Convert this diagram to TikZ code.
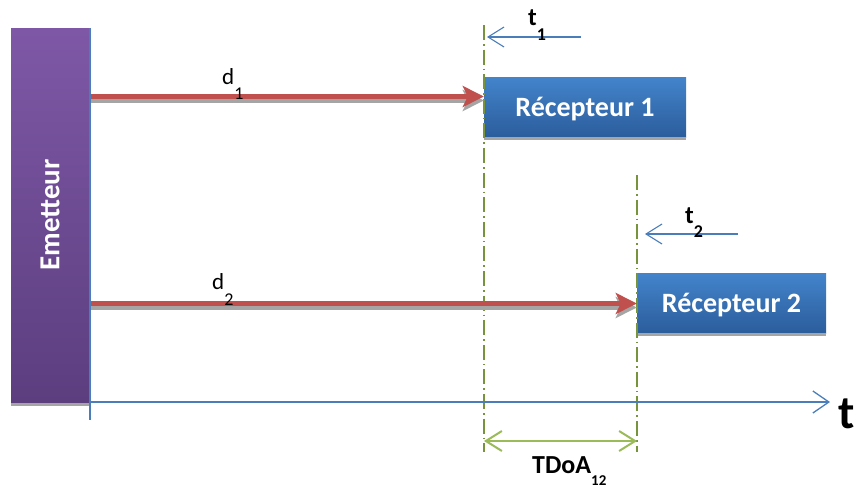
\documentclass[tikz,border=0pt]{standalone}
\usepackage{fontspec}
\setmainfont{Carlito}
\usetikzlibrary{arrows.meta}
\definecolor{emtop}{HTML}{7E58A6}
\definecolor{embot}{HTML}{5C3E7F}
\definecolor{rectop}{HTML}{4384CB}
\definecolor{recbot}{HTML}{2B5D9C}
\definecolor{redarr}{HTML}{C0504D}
\definecolor{axblue}{HTML}{4A7EBB}
\definecolor{olivegreen}{HTML}{77933C}
\definecolor{lgreen}{HTML}{9BBB59}
\definecolor{shadowgray}{HTML}{A5A5A5}
\begin{document}
\begin{tikzpicture}[x=1pt,y=-1pt,
  recbox/.style={minimum width=202pt, minimum height=60pt, inner sep=0pt, text depth=0pt,
    top color=rectop, bottom color=recbot, text=white,
    font=\bfseries\fontsize{28}{28}\selectfont},
  emitbox/.style={rotate=90, minimum width=374pt, minimum height=78pt, inner sep=0pt,
    top color=emtop, bottom color=embot, text=white,
    font=\bfseries\fontsize{29}{29}\selectfont},
  boxshadow/.style={fill=shadowgray},
  redarrow/.style={draw=redarr, line width=5pt, -{Stealth[length=21pt,width=21pt,inset=5pt]}},
  redshadow/.style={draw=shadowgray, line width=4pt, -{Stealth[length=21pt,width=21pt,inset=5pt]}},
  axisline/.style={draw=axblue, line width=1.3pt},
  axisarrow/.style={draw=axblue, line width=1.3pt, -{Straight Barb[length=16pt,width=22pt,line width=1.3pt]}},
  tarrow/.style={draw=axblue, line width=1.1pt, -{Straight Barb[length=16pt,width=20pt,line width=1.1pt]}},
  dashdotline/.style={draw=olivegreen, line width=1.6pt, dash pattern=on 15pt off 4pt on 1.6pt off 4pt},
  tdoaarrow/.style={draw=lgreen, line width=2pt, {Straight Barb[length=16pt,width=20pt,line width=2pt]}-{Straight Barb[length=16pt,width=20pt,line width=2pt]}},
  dlabel/.style={inner sep=0pt, anchor=base west, font=\fontsize{23}{23}\selectfont},
  tlabel/.style={inner sep=0pt, anchor=base west, font=\bfseries\fontsize{25}{25}\selectfont},
]
\useasboundingbox (0,0) rectangle (856,488);

% Emetteur
\fill[boxshadow] (11,402) rectangle (89,406);
\draw[shadowgray, line width=0.8pt, dotted] (11,28) -- (11,404);
\node[emitbox] (em) at (50,215) {Emetteur};

% receivers
\node[recbox] (r1) at (585,107) {Récepteur 1};
\fill[boxshadow] (r1.south west) rectangle ([yshift=-3pt]r1.south east);
\node[recbox, minimum width=189pt] (r2) at (731.5,303) {Récepteur 2};
\fill[boxshadow] (r2.south west) rectangle ([yshift=-3pt]r2.south east);

% green dash-dot lines
\coordinate (g1a) at (484,25);
\coordinate (g1b) at (484,452);
\coordinate (g2a) at (637,175);
\coordinate (g2b) at (637,452);
\draw[dashdotline] (g1a) -- (g1b);
\draw[dashdotline] (g2a) -- (g2b);

% axes
\coordinate (vtop) at (90,28);
\coordinate (vbot) at (90,420);
\coordinate (hstart) at (90,402);
\coordinate (hend) at (830,402);
\draw[axisline] (vtop) -- (vbot);
\draw[axisarrow] (hstart) -- (hend);
\node[inner sep=0pt, anchor=base west, font=\bfseries\fontsize{47}{47}\selectfont] (tax) at (838,428) {t};

% red arrows
\coordinate (d1s) at (91,96.5);
\coordinate (d2s) at (91,303.5);
\draw[redshadow, transform canvas={yshift=-4pt}] (d1s) -- (d1s -| r1.west);
\draw[redarrow] (d1s) -- (d1s -| r1.west);
\draw[redshadow, transform canvas={yshift=-4pt}] (d2s) -- (d2s -| r2.west);
\draw[redarrow] (d2s) -- (d2s -| r2.west);
\node[dlabel] (d1) at (222,84) {d\raisebox{-15pt}{\fontsize{18}{18}\selectfont 1}};
\node[dlabel] (d2) at (212,289) {d\raisebox{-16pt}{\fontsize{18}{18}\selectfont 2}};

% t1, t2
\coordinate (t1s) at (581,37);
\coordinate (t1e) at (487,37);
\draw[tarrow] (t1s) -- (t1e);
\node[tlabel] (t1) at (528,25) {t\raisebox{-15pt}{\fontsize{18}{18}\selectfont 1}};
\coordinate (t2s) at (738,234);
\coordinate (t2e) at (645,234);
\draw[tarrow] (t2s) -- (t2e);
\node[tlabel] (t2) at (685,223) {t\raisebox{-14pt}{\fontsize{18}{18}\selectfont 2}};

% TDoA
\coordinate (ta) at (484,441);
\coordinate (tb) at (637,441);
\draw[tdoaarrow] (ta) -- (tb);
\node[inner sep=0pt, anchor=base west, font=\bfseries\fontsize{26}{26}\selectfont] (tdoa) at (532,473) {TDoA\raisebox{-12pt}{\fontsize{15}{15}\selectfont 12}};
\end{tikzpicture}
\end{document}
